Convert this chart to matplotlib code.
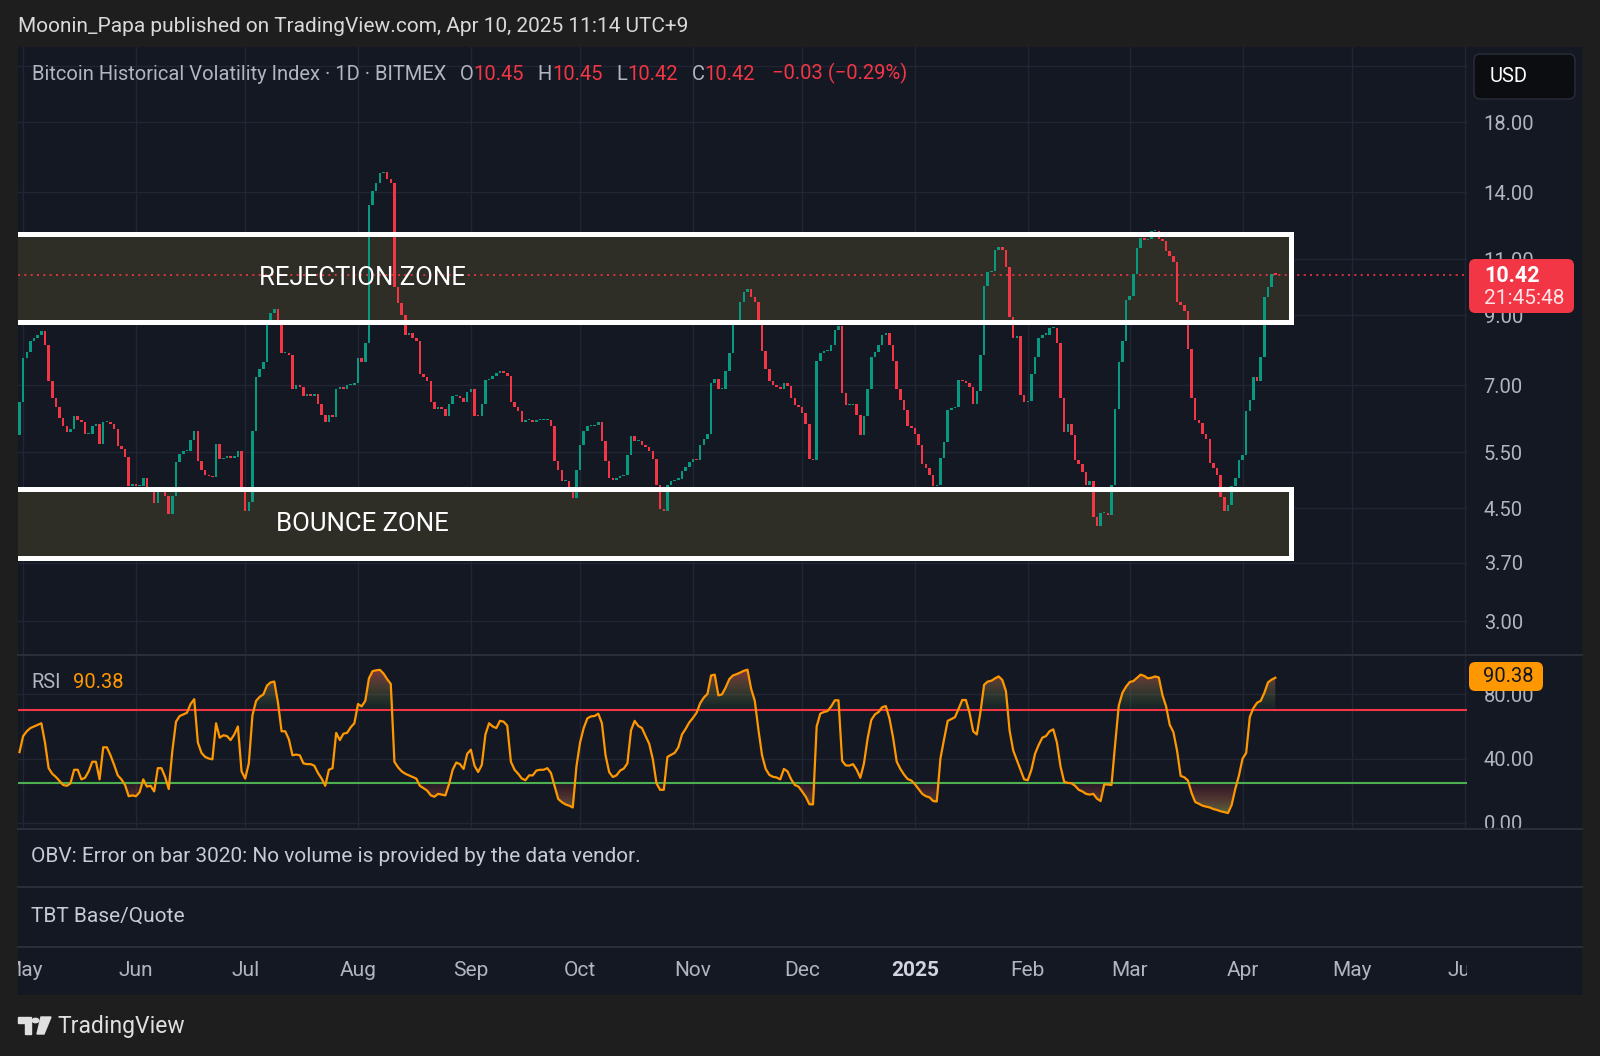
import numpy as np
import pandas as pd
import matplotlib
matplotlib.use("Agg")
import matplotlib.pyplot as plt
import matplotlib.dates as mdates
from matplotlib.patches import Rectangle, FancyBboxPatch, Circle, Polygon
from matplotlib.lines import Line2D
from matplotlib.path import Path
from matplotlib.ticker import NullLocator, FuncFormatter

plt.rcParams['font.family'] = ['Roboto', 'DejaVu Sans']

# ---- values ----
start_date = '2024-04-30'
first_open = 5.86
closes = [
    6.59, 7.71, 7.90, 8.20, 8.30, 8.40, 8.50, 8.10, 7.10, 6.69,
    6.48, 6.23, 6.04, 5.93, 5.99, 6.28, 6.18, 6.13, 5.88, 5.88,
    6.04, 6.09, 5.68, 6.14, 6.14, 6.09, 5.99, 5.62, 5.57, 5.42,
    4.87, 4.92, 4.87, 4.87, 5.02, 4.82, 4.82, 4.58, 4.82, 4.77,
    4.71, 4.41, 4.71, 5.31, 5.48, 5.53, 5.53, 5.75, 5.94, 5.33,
    5.16, 5.08, 5.05, 5.04, 5.67, 5.38, 5.40, 5.43, 5.40, 5.42,
    5.53, 4.77, 4.46, 4.61, 5.95, 7.20, 7.41, 7.61, 8.71, 9.06,
    9.20, 8.81, 7.86, 7.86, 7.81, 6.90, 7.00, 6.95, 6.74, 6.79,
    6.74, 6.79, 6.54, 6.29, 6.14, 6.29, 6.24, 6.90, 6.95, 6.90,
    7.00, 7.02, 7.05, 7.71, 7.61, 8.15, 13.40, 14.09, 14.49, 14.99,
    15.04, 14.69, 14.49, 9.96, 9.40, 9.00, 8.40, 8.45, 8.30, 8.20,
    7.30, 7.20, 7.10, 6.59, 6.43, 6.48, 6.43, 6.28, 6.54, 6.74,
    6.74, 6.69, 6.59, 6.84, 6.90, 6.28, 6.26, 6.54, 7.14, 7.15,
    7.25, 7.31, 7.36, 7.31, 7.25, 6.59, 6.48, 6.38, 6.14, 6.17,
    6.19, 6.14, 6.17, 6.17, 6.18, 6.19, 6.04, 5.33, 5.17, 4.97,
    4.97, 4.77, 4.67, 5.17, 5.66, 5.94, 6.04, 6.04, 6.07, 6.14,
    5.73, 5.33, 5.02, 4.99, 5.01, 5.05, 5.07, 5.46, 5.83, 5.73,
    5.73, 5.66, 5.60, 5.53, 5.38, 4.89, 4.49, 4.46, 4.89, 4.97,
    4.99, 5.00, 5.15, 5.22, 5.31, 5.38, 5.36, 5.65, 5.78, 5.88,
    7.05, 7.15, 6.90, 6.92, 7.36, 7.86, 8.76, 8.86, 9.45, 9.80,
    9.90, 9.60, 9.45, 8.81, 7.91, 7.41, 7.10, 7.00, 6.95, 6.90,
    7.05, 6.98, 6.69, 6.52, 6.48, 6.34, 6.09, 5.38, 5.36, 7.63,
    7.86, 7.91, 7.93, 8.10, 8.55, 8.65, 6.82, 6.52, 6.52, 6.55,
    6.29, 5.85, 6.28, 6.90, 7.75, 7.90, 8.10, 8.40, 8.45, 8.10,
    7.65, 6.90, 6.65, 6.40, 6.05, 6.00, 5.88, 5.66, 5.28, 5.20,
    5.08, 4.87, 4.90, 5.40, 5.72, 6.40, 6.45, 6.47, 7.14, 7.10,
    7.05, 6.95, 6.55, 6.85, 7.80, 10.00, 10.50, 10.55, 11.40, 11.50,
    11.40, 10.70, 8.95, 8.30, 8.35, 6.75, 6.60, 6.62, 7.30, 7.75,
    8.30, 8.40, 8.40, 8.60, 8.60, 8.15, 6.70, 5.93, 6.10, 5.85,
    5.35, 5.28, 5.12, 4.90, 4.97, 4.37, 4.22, 4.42, 4.43, 4.40,
    4.90, 6.43, 7.61, 8.20, 9.51, 9.65, 10.45, 11.45, 11.90, 11.80,
    11.85, 12.20, 12.20, 11.85, 11.75, 11.35, 11.15, 10.90, 9.45, 9.35,
    9.15, 7.97, 6.70, 6.18, 6.12, 5.87, 5.77, 5.30, 5.20, 5.08,
    4.69, 4.46, 4.56, 4.87, 5.02, 5.35, 5.45, 6.38, 6.65, 7.20,
    7.10, 7.75, 9.60, 9.96, 10.45, 10.42,
]
rsi_values = [
    44, 54, 57, 59, 60, 61, 62, 50, 34, 30.5,
    28.5, 26, 23.5, 23, 24.5, 33, 33, 27, 28, 32,
    38, 38, 27, 47, 47, 42, 36, 29.5, 27, 23.5,
    16.5, 17, 16.5, 19, 27, 22.5, 23, 19.5, 34, 34,
    28.5, 21, 45, 63, 66.5, 67.5, 68.5, 74, 77, 50,
    43.5, 41, 40, 39.5, 62, 53, 54.5, 54, 51.5, 55,
    60, 32, 27.5, 37, 67, 76, 78.5, 80, 85.5, 87.5,
    88, 75, 57, 57, 52, 42, 42.5, 42, 37, 36.5,
    36.5, 35.5, 31, 27.5, 23, 33, 34, 56, 51.5, 55.5,
    56, 59.5, 62, 74, 72.5, 76, 90, 94.5, 95, 95.3,
    93, 89.5, 86.5, 38, 34.5, 32, 30.5, 29.5, 28.5, 27.5,
    23, 21.5, 20, 17, 16.2, 18, 17.5, 17, 24, 33,
    37.5, 36.5, 33.5, 43, 45.5, 35.5, 31.6, 36, 55, 62,
    60, 59, 63.5, 63, 60.5, 38, 33, 30.5, 27.5, 26.5,
    29.5, 29.5, 32.5, 33, 33, 34, 31, 23, 14.8, 12.8,
    11.4, 10.6, 9.5, 35, 50, 59, 65, 66.3, 66.5, 68,
    62, 42, 31.5, 28.5, 29.5, 32.5, 33.7, 37, 57.6, 63.5,
    60.3, 59, 54, 49.2, 39.5, 24.5, 20.5, 20.5, 41, 42.3,
    43.5, 47, 55, 58.5, 62.5, 65.3, 68.5, 74.5, 78, 80.3,
    91.8, 92.3, 79.4, 80, 84.3, 89.5, 91.8, 92.6, 93.6, 94.7,
    95.4, 83.5, 76, 58, 42, 33.5, 29.8, 28.6, 28.2, 27,
    33.5, 32, 27, 23.5, 22.5, 19.5, 16.2, 11.5, 11.4, 60,
    68, 69, 69.6, 72.5, 76.3, 76.3, 38.5, 35.7, 35.6, 36.5,
    33, 28, 37, 52.5, 64, 67.5, 69, 72, 72.7, 65,
    53, 38, 33.5, 30, 27.2, 26.3, 24, 21, 18, 16.5,
    15.8, 13.5, 13.2, 40, 52, 63.5, 64.6, 65.8, 71, 76.5,
    76.5, 68.5, 57, 55, 69, 86, 88, 88.5, 90, 91.2,
    89, 82, 57.5, 45, 39, 33, 27, 26.5, 33, 43,
    48.5, 53, 54, 57, 58.2, 50, 35, 25.5, 24.8, 24.6,
    23, 20.5, 19.5, 18, 17.5, 18, 15, 13.5, 23.9, 23.8,
    23.5, 49, 73, 81, 84.8, 87.7, 88.3, 90.3, 92.3, 91.5,
    90, 90.4, 91.2, 90.5, 79.5, 72.5, 61, 56.5, 45, 29.2,
    28.3, 26.3, 18.5, 12.9, 11.8, 10.6, 10, 9.5, 8.5, 7.9,
    7.1, 6.6, 6, 11, 21, 29.3, 39.9, 43.5, 66, 71.5,
    74.8, 76, 81, 87.5, 89.2, 90.38,
]
price_ticks = [3.0, 3.7, 4.5, 5.5, 7.0, 9.0, 11.0, 14.0, 18.0]
hidden_grid_price = 22.0          # grid line whose label sits under the USD badge
rsi_ticks = [0, 40, 80]
rsi_upper, rsi_lower = 70, 25
rejection_zone = (8.80, 12.05)
bounce_zone = (3.77, 4.83)
month_labels = ['May', 'Jun', 'Jul', 'Aug', 'Sep', 'Oct', 'Nov', 'Dec',
                '2025', 'Feb', 'Mar', 'Apr', 'May', 'Jun']
countdown = '21:45:48'

dates = pd.date_range(start_date, periods=len(closes), freq='D')
months = pd.date_range('2024-05-01', periods=len(month_labels), freq='MS')
c = np.array(closes)
o = np.array([first_open] + closes[:-1])
rsi = np.array(rsi_values)
x = mdates.date2num(dates)
xm = mdates.date2num(months)

# colours
FRAME = '#1e1e1e'
BG = '#141823'
GRID = '#222633'
SEP = '#2a2e39'
TXT = '#b2b5be'
UP = '#089981'
DOWN = '#f23645'
ORANGE = '#ff9800'

W, H = 1600, 1056
fig = plt.figure(figsize=(W / 100, H / 100), dpi=100, facecolor=FRAME)


def fx(px):
    return px / W


def fy(py):
    return 1 - py / H


def box(x0, y0, x1, y1):
    return [fx(x0), fy(y1), fx(x1) - fx(x0), fy(y0) - fy(y1)]


# pixel -> day mapping of the time scale
PX0, PXD = 19.5, 3.64
d0 = x[0]
xlim = (d0 + (18 - PX0) / PXD, d0 + (1467 - PX0) / PXD)

fig.add_artist(Rectangle((fx(18), fy(995)), fx(1582) - fx(18), fy(47) - fy(995),
                         transform=fig.transFigure, facecolor=BG, edgecolor='none', zorder=-5))


def style_pane(ax, ticks, fmt):
    ax.set_facecolor('none')
    ax.set_xticks(xm)
    ax.set_xticklabels([])
    ax.set_yticks(ticks)
    ax.yaxis.set_minor_locator(NullLocator())
    ax.yaxis.set_major_formatter(FuncFormatter(fmt))
    ax.yaxis.tick_right()
    ax.tick_params(axis='both', length=0)
    ax.tick_params(axis='y', pad=12, labelsize=14.5, labelcolor=TXT)
    ax.grid(True, color=GRID, lw=1)
    ax.set_axisbelow(True)
    for s in ax.spines.values():
        s.set_visible(False)


# ---- main price pane ----
ax = fig.add_axes(box(18, 47, 1467, 655))
ax.set_yscale('log')
style_pane(ax, price_ticks, lambda v, p: f'{v:.2f}')
ax.axhline(hidden_grid_price, color=GRID, lw=1, zorder=0)

xz0 = xlim[0] - 5
xz1 = d0 + (1291 - PX0) / PXD
for lo, hi in (rejection_zone, bounce_zone):
    ax.add_patch(Rectangle((xz0, lo), xz1 - xz0, hi - lo, facecolor='#2e2e27',
                           edgecolor='none', zorder=1))
    ax.add_patch(Rectangle((xz0, lo), xz1 - xz0, hi - lo, facecolor='none',
                           edgecolor='white', lw=3.6, zorder=5))

bottoms = np.minimum(o, c)
heights = np.maximum(np.abs(c - o), bottoms * 0.004)
ax.bar(x, heights, bottom=bottoms, width=0.7,
       color=np.where(c >= o, UP, DOWN), linewidth=0, zorder=3)
ax.axhline(c[-1], color=DOWN, lw=1.2, ls=(0, (1.2, 2.6)), zorder=2)

ax.text(d0 + 94.2, 10.31, 'REJECTION ZONE', color='white', fontsize=18.5,
        ha='center', va='center', zorder=6)
ax.text(d0 + 94.2, 4.26, 'BOUNCE ZONE', color='white', fontsize=18.5,
        ha='center', va='center', zorder=6)
ax.set_xlim(*xlim)
ax.set_ylim(2.658, 23.59)

# ---- RSI pane ----
axr = fig.add_axes(box(18, 655, 1467, 829))
style_pane(axr, rsi_ticks, lambda v, p: f'{v:.2f}')


def gradient_fill(a, lower, upper, y_lo, y_hi, c_lo, c_hi):
    coll = a.fill_between(x, lower, upper, facecolor='none', edgecolor='none')
    path = Path.make_compound_path(*coll.get_paths())
    t = np.linspace(0, 1, 256)[:, None]
    img = np.zeros((256, 1, 4))
    for k in range(4):
        img[:, :, k] = c_lo[k] + (c_hi[k] - c_lo[k]) * t
    im = a.imshow(img, extent=[x[0], x[-1], y_lo, y_hi], origin='lower',
                  aspect='auto', interpolation='bilinear', zorder=2)
    im.set_clip_path(path, transform=a.transData)


green_rgba = (0.30, 0.69, 0.31)
red_rgba = (0.95, 0.21, 0.27)
gradient_fill(axr, np.full_like(rsi, rsi_upper), np.maximum(rsi, rsi_upper),
              rsi_upper, 100, (*green_rgba, 0.06), (*red_rgba, 0.7))
gradient_fill(axr, np.minimum(rsi, rsi_lower), np.full_like(rsi, rsi_lower),
              0, rsi_lower, (*green_rgba, 0.85), (*red_rgba, 0.06))
axr.axhline(rsi_upper, color=DOWN, lw=1.5, zorder=3)
axr.axhline(rsi_lower, color='#4caf50', lw=1.5, zorder=3)
axr.plot(x, rsi, color=ORANGE, lw=1.6, zorder=4)
axr.set_xlim(*xlim)
axr.set_ylim(-3.93, 104.55)

# ---- time axis ----
axt = fig.add_axes(box(18, 947, 1467, 995))
axt.set_axis_off()
axt.set_xlim(*xlim)
axt.set_ylim(0, 1)
for m, lab in zip(xm, month_labels):
    bold = lab.isdigit()
    axt.text(m, 0.5, lab, ha='center', va='center', fontsize=15,
             color='#d1d4dc' if bold else TXT, fontweight='bold' if bold else 'normal',
             clip_on=True)

# pane separators
for yy in (655, 829, 887, 947):
    fig.add_artist(Line2D([fx(18), fx(1582)], [fy(yy), fy(yy)], color=SEP, lw=1.5, zorder=1))

# ---- header and legends ----
fig.text(fx(18), fy(26.5), 'Moonin_Papa published on TradingView.com, Apr 10, 2025 11:14 UTC+9',
         color='#d9d9d9', fontsize=15, va='center')

chg = c[-1] - c[-2]
pieces = [
    ('Bitcoin Historical Volatility Index · 1D · BITMEX', TXT, 0),
    ('O', TXT, 10), (f'{o[-1]:.2f}', DOWN, 0),
    ('H', TXT, 10), (f'{max(o[-1], c[-1]):.2f}', DOWN, 0),
    ('L', TXT, 10), (f'{min(o[-1], c[-1]):.2f}', DOWN, 0),
    ('C', TXT, 10), (f'{c[-1]:.2f}', DOWN, 0),
    (f'{chg:.2f} ({chg / c[-2] * 100:.2f}%)'.replace('-', '\u2212'), DOWN, 12),
]
prev = fig.text(fx(31.5), fy(75), pieces[0][0], color=pieces[0][1], fontsize=14.5, va='center')
for s, col, gap in pieces[1:]:
    prev = ax.annotate(s, xy=(1, 0), xycoords=prev, xytext=(gap, 0),
                       textcoords='offset points', color=col, fontsize=14.5,
                       va='bottom', ha='left', annotation_clip=False)

fig.text(fx(31), fy(683), 'RSI', color=TXT, fontsize=14.5, va='center')
fig.text(fx(73), fy(683), f'{rsi[-1]:.2f}', color=ORANGE, fontsize=14.5, va='center')
fig.text(fx(31), fy(857), 'OBV: Error on bar 3020: No volume is provided by the data vendor.',
         color='#c8cbd3', fontsize=15, va='center')
fig.text(fx(31), fy(916), 'TBT Base/Quote', color='#c8cbd3', fontsize=15, va='center')


# ---- right-hand price scale badges ----
def badge(x0, y0, x1, y1, fc, ec='none', z=10):
    fig.add_artist(FancyBboxPatch((fx(x0), fy(y1)), fx(x1) - fx(x0), fy(y0) - fy(y1),
                                  boxstyle='round,pad=0,rounding_size=0.004',
                                  mutation_aspect=W / H, transform=fig.transFigure,
                                  facecolor=fc, edgecolor=ec, lw=1, zorder=z))


badge(1474, 54, 1575, 99, '#0c0d10', '#2a2e39')
fig.text(fx(1490), fy(77), 'USD', color='white', fontsize=14.5, va='center', zorder=11)
badge(1469, 259, 1574, 313, DOWN)
fig.text(fx(1484), fy(275.5), f'{c[-1]:.2f}', color='white', fontsize=15.5,
         fontweight='bold', va='center', zorder=11)
fig.text(fx(1484), fy(298.5), countdown, color='#ffe3e6', fontsize=15, va='center', zorder=11)
badge(1469, 662, 1543, 691, ORANGE)
fig.text(fx(1483), fy(677), f'{rsi[-1]:.2f}', color='#131722', fontsize=14.5, va='center', zorder=11)

# ---- footer logo ----
logo_col = '#e0e0e0'
fig.add_artist(Polygon([(fx(18), fy(1017)), (fx(31), fy(1017)), (fx(31), fy(1034)),
                        (fx(25), fy(1034)), (fx(25), fy(1023)), (fx(18), fy(1023))],
                       closed=True, transform=fig.transFigure, color=logo_col))
fig.add_artist(Circle((fx(35.5), fy(1020.5)), 3.3 / W, transform=fig.transFigure, color=logo_col))
fig.add_artist(Polygon([(fx(41), fy(1017)), (fx(51), fy(1017)), (fx(44), fy(1034)),
                        (fx(37), fy(1034))], closed=True, transform=fig.transFigure, color=logo_col))
fig.text(fx(57), fy(1026.5), 'TradingView', color=logo_col, fontsize=16.5, va='center')

fig.savefig('out.png', dpi=100, facecolor=FRAME)
